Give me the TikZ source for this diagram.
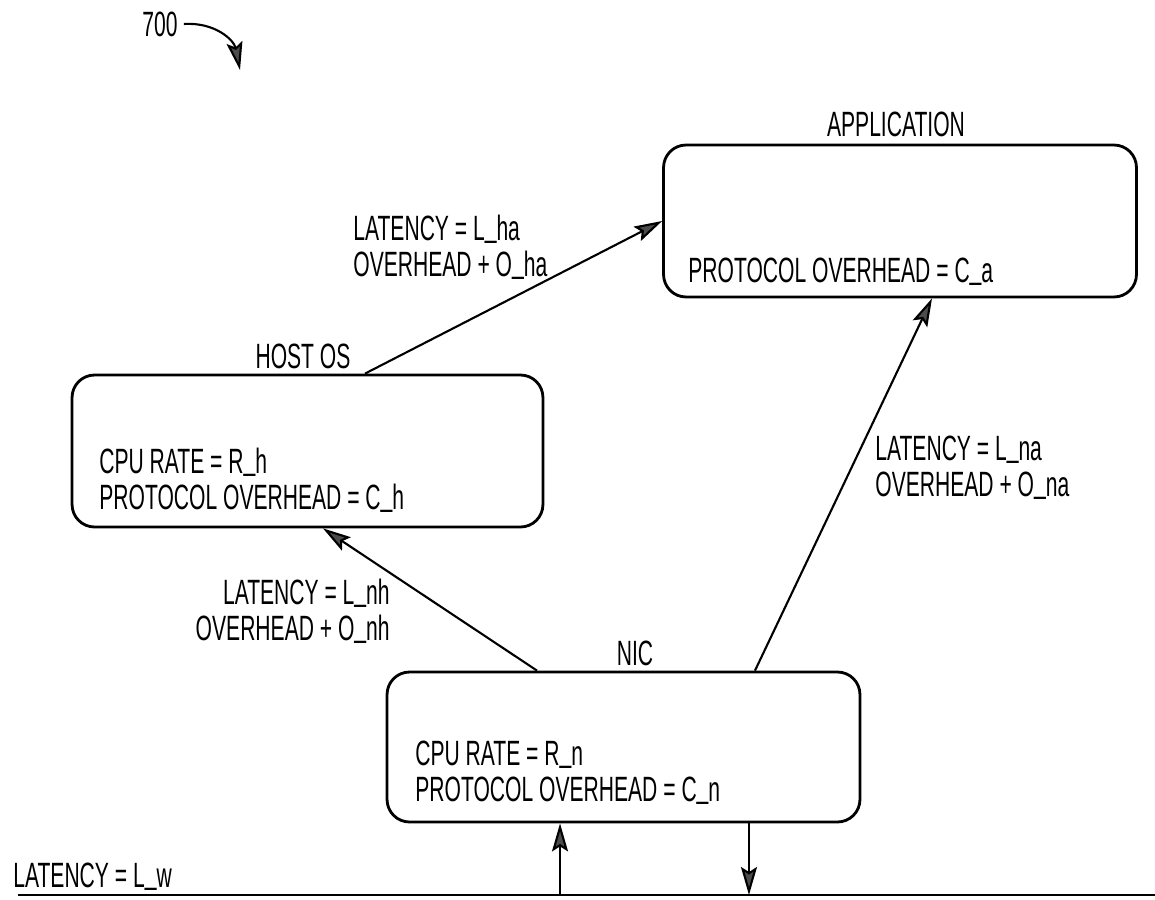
\documentclass[tikz,border=0pt]{standalone}
\usepackage{fontspec}
\setmainfont[FakeStretch=0.6]{Liberation Sans}
\usepackage{tikz}
\usetikzlibrary{arrows.meta}

% raised underscore, as printed in the figure
\newcommand{\us}{\raisebox{2.5pt}{\_}}

\begin{document}
\begin{tikzpicture}[x=0.02cm, y=-0.02cm, font=\fontsize{20}{20.5}\selectfont]

% Defined styles
\tikzstyle{layer} = [rectangle, rounded corners=0.45cm, minimum width=9.46cm, minimum height=3.04cm, draw=black, line width=1.6pt]
\tikzstyle{info} = [align=left, inner sep=0pt]
\tikzstyle{arrow} = [line width=1.2pt, -{Stealth[length=0.56cm, width=0.32cm, inset=0.1cm, fill=black!70]}]

\useasboundingbox (0,0) rectangle (1155,899);

% --- Boxes ---
\node (app) [layer] at (900,221) {};
\node (host) [layer, minimum width=9.42cm] at (307.5,451) {};
\node (nic) [layer, minimum height=3cm] at (623.5,747) {};

% --- Titles above the boxes ---
\node (apptitle) at (896,124) {APPLICATION};
\node (hosttitle) at (303,356) {HOST OS};
\node (nictitle) at (635,653) {NIC};

% --- Box contents ---
\node (appinfo) [info, anchor=west] at (688,272) {PROTOCOL OVERHEAD = C\us a};
\node (hostinfo) [info, anchor=west] at (99,480) {CPU RATE = R\us h\\PROTOCOL OVERHEAD = C\us h};
\node (nicinfo) [info, anchor=west] at (415,773) {CPU RATE = R\us n\\PROTOCOL OVERHEAD = C\us n};

% --- Arrows between layers ---
\draw [arrow] ([xshift=1.15cm]host.north) -- (app.west);
\draw [arrow] ([xshift=-1.73cm]nic.north) -- ([xshift=0.31cm]host.south);
\draw [arrow] ([xshift=2.63cm]nic.north) -- ([xshift=0.64cm]app.south);

% --- Arrow labels ---
\node (haLabel) [info, anchor=west] at (353,247) {LATENCY = L\us ha\\OVERHEAD + O\us ha};
\node (nhLabel) [info, align=right, anchor=east] at (390,611) {LATENCY = L\us nh\\OVERHEAD + O\us nh};
\node (naLabel) [info, anchor=west] at (875,468) {LATENCY = L\us na\\OVERHEAD + O\us na};

% --- Wire ---
\coordinate (wl) at (18,895);
\coordinate (wr) at (1155,895);
\draw [line width=1.6pt] (wl) -- (wr);
\node (wire) [info, anchor=west] at (13,877) {LATENCY = L\us w};
\coordinate (nicin) at ([xshift=-1.27cm]nic.south);
\coordinate (nicout) at ([xshift=2.51cm]nic.south);
\draw [arrow] (nicin |- wl) -- (nicin);
\draw [arrow] (nicout) -- (nicout |- wl);

% --- Figure number ---
\node (fig) at (160,24) {700};
\coordinate (figtip) at (240,70);
\draw [arrow] (fig.east) .. controls (215,22) and (234,40) .. (figtip);

\end{tikzpicture}
\end{document}
